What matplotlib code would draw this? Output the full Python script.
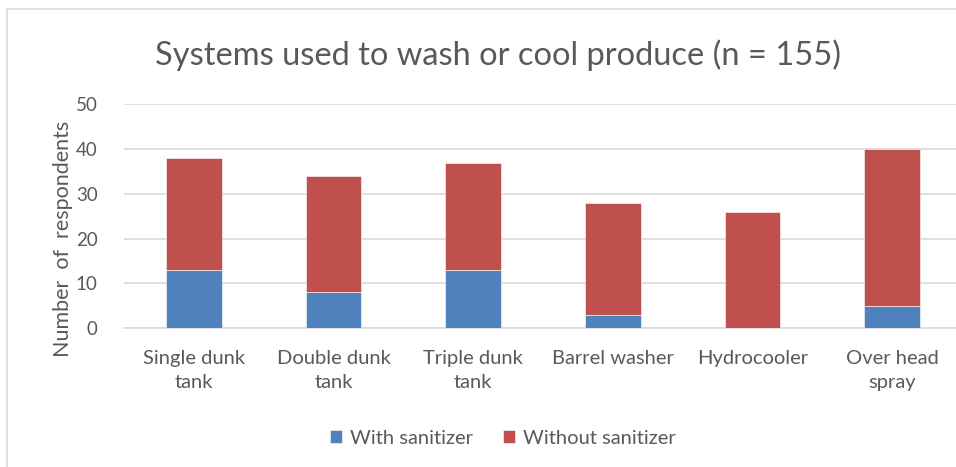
import matplotlib.pyplot as plt
from matplotlib.patches import Rectangle

# Wash / cool systems reported by growers, split by sanitizer use
systems = ["Single dunk\ntank", "Double dunk\ntank", "Triple dunk\ntank",
           "Barrel washer", "Hydrocooler", "Over head\nspray"]
with_sanitizer = [13, 8, 13, 3, 0, 5]
without_sanitizer = [25, 26, 24, 25, 26, 35]
y_ticks = [0, 10, 20, 30, 40, 50]

BLUE = "#4f81bd"
RED = "#c0504d"
GREY_TEXT = "#595959"
GRID = "#d9d9d9"

W, H = 956, 467
plt.rcParams['font.family'] = ['Lato', 'DejaVu Sans']

fig = plt.figure(figsize=(W / 100, H / 100), dpi=100)

# light frame round the chart area
fig.patches.append(Rectangle((7 / W, -0.05), 1.1, 1 - 9 / H + 0.05,
                             transform=fig.transFigure, fill=False,
                             edgecolor=GRID, linewidth=1.2))

left, right = 124, 962
bottom, top = 328, 104.5
ax = fig.add_axes([left / W, 1 - bottom / H, (right - left) / W, (bottom - top) / H])

x = range(len(systems))
ax.bar(x, with_sanitizer, width=0.4, color=BLUE, label="With sanitizer",
       edgecolor="white", linewidth=0.4, zorder=3)
ax.bar(x, without_sanitizer, width=0.4, bottom=with_sanitizer, color=RED,
       label="Without sanitizer", edgecolor="white", linewidth=0.4, zorder=3)

ax.set_xlim(-0.5, len(systems) - 0.5)
ax.set_ylim(0, 50)
ax.set_yticks(y_ticks)
ax.set_xticks(list(x))
ax.set_xticklabels(systems, fontsize=14.5, color=GREY_TEXT, linespacing=1.5)
ax.tick_params(axis='y', length=0, pad=19, labelsize=13.5, labelcolor=GREY_TEXT)
ax.tick_params(axis='x', length=0, pad=16)
ax.grid(axis='y', color=GRID, linewidth=1.2, zorder=0)
for side in ["top", "right", "left"]:
    ax.spines[side].set_visible(False)
ax.spines["bottom"].set_color(GRID)
ax.spines["bottom"].set_linewidth(1.2)
ax.spines["bottom"].set_clip_on(False)

fig.text(498 / W, 1 - 55 / H, "Systems used to wash or cool produce (n = 155)",
         ha='center', va='center', fontsize=23.5, color=GREY_TEXT)
fig.text(63 / W, 1 - 239 / H, "Number  of  respondents", rotation=90,
         ha='center', va='center', fontsize=15.5, color=GREY_TEXT)

fig.legend(loc='center', bbox_to_anchor=(503 / W, 1 - 438 / H), ncol=2,
           frameon=False, fontsize=14.5, labelcolor=GREY_TEXT,
           handlelength=0.6, handleheight=0.6, handletextpad=0.4,
           columnspacing=1.5)

fig.savefig("out.png", dpi=100)
